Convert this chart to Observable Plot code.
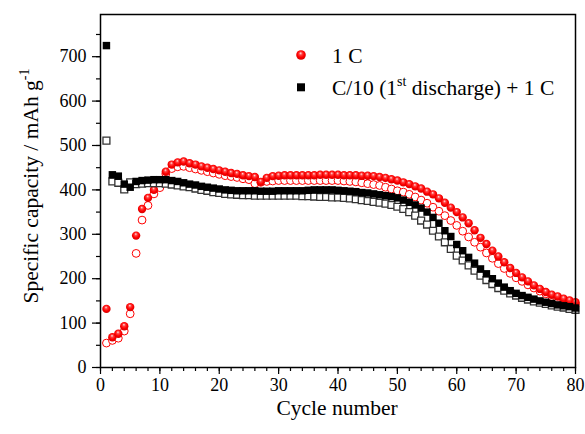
<!DOCTYPE html>
<html><head><meta charset="utf-8">
<script src="https://cdn.jsdelivr.net/npm/d3@7"></script>
<script src="https://cdn.jsdelivr.net/npm/@observablehq/plot@0.6"></script>
<style>
body{margin:0;background:#fff}
#chart{position:relative;width:585px;height:434px}
</style>
</head><body><div id="chart"></div>
<script>
const cycles = [1,2,3,4,5,6,7,8,9,10,11,12,13,14,15,16,17,18,19,20,21,22,23,24,25,26,27,28,29,30,31,32,33,34,35,36,37,38,39,40,41,42,43,44,45,46,47,48,49,50,51,52,53,54,55,56,57,58,59,60,61,62,63,64,65,66,67,68,69,70,71,72,73,74,75,76,77,78,79,80];

// 1 C (filled red spheres)
const red1CFilled = [132,68,76,93,136,297,357,382,400,418,441,457,462,464,460,457,453,450,447,444,441,438,436,433,431,429,418,427,431,432,433,433,433,433,433,433,434,434,434,434,433,433,433,432,432,431,429,427,424,421,417,413,408,403,396,390,381,371,360,350,338,325,309,292,278,263,250,237,224,213,203,194,185,177,170,164,160,155,151,147];
// 1 C (open red circles)
const red1COpen = [55,61,66,82,121,257,332,365,391,405,436,448,452,453,450,447,444,441,438,435,432,430,428,425,423,414,417,419,420,421,421,421,421,421,421,421,421,421,421,421,420,419,418,416,414,412,410,406,402,398,395,390,384,377,370,361,352,342,331,320,307,294,282,271,258,246,234,223,212,202,194,186,179,172,166,160,155,151,146,142];
// C/10 (1st discharge) + 1 C (filled black squares)
const blackFilled = [725,434,431,413,406,419,421,422,423,423,423,421,419,416,413,411,408,406,404,402,400,399,398,398,398,398,397,397,397,398,398,398,398,398,399,400,400,400,400,399,398,397,396,394,393,391,389,387,385,382,377,372,366,359,350,338,325,308,295,277,263,248,235,222,211,200,190,181,173,167,162,158,154,150,147,144,141,139,137,134];
// C/10 (1st discharge) + 1 C (open black squares)
const blackOpen = [511,419,416,401,417,413,414,415,415,415,414,412,410,408,406,403,400,398,395,393,391,390,389,388,388,387,387,387,387,387,387,387,387,386,386,385,384,384,383,383,382,381,379,377,375,373,371,369,366,362,357,350,342,331,322,308,295,282,267,252,241,230,218,207,197,188,179,173,167,162,157,153,149,146,143,140,137,135,132,130];

const xTicks = [0,10,20,30,40,50,60,70,80];
const xMinorTicks = [0,2,4,6,8,10,12,14,16,18,20,22,24,26,28,30,32,34,36,38,40,42,44,46,48,50,52,54,56,58,60,62,64,66,68,70,72,74,76,78,80];
const yTicks = [0,100,200,300,400,500,600,700];
const yMinorTicks = [0,50,100,150,200,250,300,350,400,450,500,550,600,650,700,750];

const legendLabels = ["1 C", "C/10 (1", "st", " discharge) + 1 C"];
const xTitle = "Cycle number";
const yTitle = "Specific capacity / mAh g";

const toRows = (vals) => cycles.map((c, i) => ({cycle: c, v: vals[i]}));
const rF = toRows(red1CFilled), rO = toRows(red1COpen), bF = toRows(blackFilled), bO = toRows(blackOpen);

const FONT = '"Liberation Serif", "Times New Roman", serif';

const plot = Plot.plot({
  width: 585, height: 434,
  marginLeft: 100, marginRight: 10, marginTop: 14, marginBottom: 67,
  style: {fontFamily: FONT, fontSize: "18px", color: "#000", background: "#fff"},
  x: {domain: [0, 80]},
  y: {domain: [0, 795]},
  marks: [
    Plot.axisX({ticks: xMinorTicks, tickSize: 4, fill: "none", label: null, stroke: "#000", strokeWidth: 1.2}),
    Plot.axisX({ticks: xTicks, tickSize: 7, tickPadding: 4, label: null, stroke: "#000", strokeWidth: 1.2, fill: "#000", tickFormat: d => String(d)}),
    Plot.axisY({ticks: yMinorTicks, tickSize: 4, fill: "none", label: null, stroke: "#000", strokeWidth: 1.2}),
    Plot.axisY({ticks: yTicks, tickSize: 8, tickPadding: 6, label: null, stroke: "#000", strokeWidth: 1.2, fill: "#000", tickFormat: d => String(d)}),
    Plot.dot(rO, {x: "cycle", y: "v", symbol: "circle", r: 3.9, fill: "#fff", stroke: "#ff0000", strokeWidth: 1}),
    Plot.dot(rF, {x: "cycle", y: "v", symbol: "circle", r: 4.2, fill: "url(#sphereGrad)", stroke: "none"}),
    Plot.dot(bO, {x: "cycle", y: "v", symbol: "square", r: 3.9, fill: "#fff", stroke: "#333", strokeWidth: 1.3}),
    Plot.dot(bF, {x: "cycle", y: "v", symbol: "square", r: 4.2, fill: "#000", stroke: "none"}),
    Plot.frame({stroke: "#000", strokeWidth: 1.5})
  ]
});

document.getElementById("chart").appendChild(plot);

const svg = d3.select(plot);
const defs = svg.insert("defs", ":first-child");
const g = defs.append("radialGradient").attr("id", "sphereGrad")
  .attr("cx", "50%").attr("cy", "45%").attr("r", "55%").attr("fx", "45%").attr("fy", "30%");
g.append("stop").attr("offset", "0%").attr("stop-color", "#ffe6e6");
g.append("stop").attr("offset", "30%").attr("stop-color", "#ff4040");
g.append("stop").attr("offset", "65%").attr("stop-color", "#ff0000");
g.append("stop").attr("offset", "100%").attr("stop-color", "#d40000");

// Axis titles
svg.append("text").attr("x", 337).attr("y", 415).attr("text-anchor", "middle")
  .attr("font-family", FONT).attr("font-size", "21.5px").attr("fill", "#000").text(xTitle);

const yt = svg.append("text").attr("transform", "translate(38,186) rotate(-90)").attr("text-anchor", "middle")
  .attr("font-family", FONT).attr("font-size", "21.5px").attr("fill", "#000");
yt.append("tspan").text(yTitle);
yt.append("tspan").attr("dy", "-9").attr("font-size", "14px").text("-1");

// Legend
const lg = svg.append("g").attr("font-family", FONT).attr("font-size", "21.5px").attr("fill", "#000").attr("text-anchor", "start");
lg.append("circle").attr("cx", 301).attr("cy", 55).attr("r", 4.8).attr("fill", "url(#sphereGrad)");
lg.append("text").attr("x", 332).attr("y", 63).attr("text-anchor", "start").text(legendLabels[0]);
lg.append("rect").attr("x", 297).attr("y", 83.3).attr("width", 8).attr("height", 8).attr("fill", "#000");
const t2 = lg.append("text").attr("x", 332).attr("y", 94.5).attr("text-anchor", "start");
t2.append("tspan").text(legendLabels[1]);
t2.append("tspan").attr("dy", "-9").attr("font-size", "14px").text(legendLabels[2]);
t2.append("tspan").attr("dy", "9").text(legendLabels[3]);
</script>
</body></html>
